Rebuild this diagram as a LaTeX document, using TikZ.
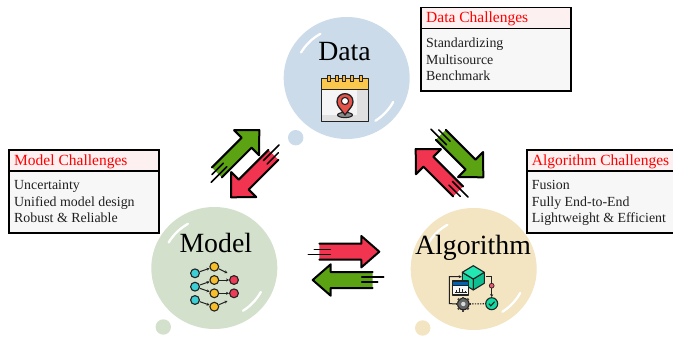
\documentclass[tikz,border=0pt]{standalone}
\usepackage{fontspec}
\usetikzlibrary{shapes.geometric,arrows.meta}
\setmainfont{Liberation Serif}
\definecolor{bubData}{HTML}{CBDBEA}
\definecolor{bubModel}{HTML}{D3E0CB}
\definecolor{bubAlgo}{HTML}{F3E4C2}
\definecolor{arrGreen}{HTML}{5BA313}
\definecolor{arrRed}{HTML}{F1344F}
\definecolor{hdrFill}{HTML}{FDF0F1}
\definecolor{bodyFill}{HTML}{F7F7F7}
\definecolor{calYellow}{HTML}{FBC84E}
\definecolor{pinRed}{HTML}{E5534B}
\definecolor{nnCyan}{HTML}{3CCFD6}
\definecolor{nnYellow}{HTML}{F7BE2B}
\definecolor{nnRed}{HTML}{EE3B57}
\definecolor{icoLine}{HTML}{222222}
\tikzset{
  bubble/.style={ellipse,draw=none,inner sep=0pt,minimum width=126pt,minimum height=122pt},
  dot/.style={circle,draw=none,inner sep=0pt,minimum size=15.4pt},
  gloss/.style={white,line width=2.3pt,line cap=round},
  bigtitle/.style={anchor=base,inner sep=0pt,font=\fontsize{27.8}{30}\selectfont,text=black},
  hdrbox/.style={draw=black,line width=1.6pt,fill=hdrFill,anchor=north west,inner sep=0pt,minimum width=#1},
  bodybox/.style={draw=black,line width=1.6pt,fill=bodyFill,anchor=north west,inner sep=0pt,minimum width=#1},
  hdrtext/.style={anchor=base west,inner sep=0pt,text=red,font=\fontsize{15.5}{17}\selectfont},
  bodytext/.style={anchor=base west,inner sep=0pt,text=black!88,font=\fontsize{13.9}{16}\selectfont},
  arrowline/.style={black,line width=2pt,line join=round,line cap=round},
  streak/.style={black,line width=1.5pt,line cap=round},
  nn/.style={circle,draw=icoLine,line width=1.1pt,inner sep=0pt,minimum size=8.8pt},
  nnarrow/.style={draw=icoLine,line width=1pt,-{Stealth[length=3pt,width=3pt]}},
  ico/.style={draw=icoLine,line width=1.1pt,line join=round},
}
% at, angle, colour, barb half width, shaft half width
\newcommand\bigarrow[5]{%
  \begin{scope}[shift={(#1)},rotate=#2]
    \fill[#3] (-60,-#5) -- (-18,-#5) -- (-18,-#4) -- (0,0) -- (-18,#4) -- (-18,#5) -- (-60,#5) -- cycle;
    \draw[arrowline] (-60,-#5) -- (-18,-#5) -- (-18,-#4) -- (0,0) -- (-18,#4) -- (-18,#5) -- (-60,#5);
    \draw[streak] (-49,3) -- (-71,3);
    \draw[streak] (-49,-2) -- (-65,-2);
  \end{scope}}
\newcommand\glossarcs[2]{%
  \draw[gloss] plot[smooth,domain=120:150,samples=9] ({#1+52.7*cos(\x)},{#2-51*sin(\x)});
  \draw[gloss] plot[smooth,domain=-57:-28,samples=9] ({#1+52.7*cos(\x)},{#2-51*sin(\x)});}
\begin{document}
\begin{tikzpicture}[x=1pt,y=-1pt]
\useasboundingbox (0,0) rectangle (673,337);
\clip (0,0) rectangle (673,337);

% bubbles
\node[bubble,fill=bubData] (dataBub) at (346.7,78) {};
\node[dot,fill=bubData] (dataDot) at (295.7,137.7) {};
\glossarcs{346.7}{78}
\node[bubble,fill=bubModel] (modelBub) at (214.3,268) {};
\node[dot,fill=bubModel] (modelDot) at (163.3,327) {};
\glossarcs{214.3}{268}
\node[bubble,fill=bubAlgo] (algoBub) at (473.7,269) {};
\node[dot,fill=bubAlgo] (algoDot) at (422.7,328) {};
\glossarcs{473.7}{269}

\node[bigtitle] (dataT) at (344.5,61) {Data};
\node[bigtitle] (modelT) at (215.8,252.7) {Model};
\node[bigtitle] (algoT) at (473,254) {Algorithm};

% challenge boxes
\node[bodybox=150pt,minimum height=62.5pt] (dataBody) at (420,27.7) {};
\node[hdrbox=150pt,minimum height=21pt] (dataHead) at (420,6.7) {};
\node[hdrtext] (dataH) at (426,23) {Data Challenges};
\node[bodytext] (data1) at (426,47.7) {Standardizing};
\node[bodytext] (data2) at (426,64.3) {Multisource};
\node[bodytext] (data3) at (426,81) {Benchmark};

\node[bodybox=150pt,minimum height=62pt] (modelBody) at (8.3,170) {};
\node[hdrbox=150pt,minimum height=21pt] (modelHead) at (8.3,149) {};
\node[hdrtext] (modelH) at (14,165) {Model Challenges};
\node[bodytext] (model1) at (14,189.3) {Uncertainty};
\node[bodytext] (model2) at (14,206) {Unified model design};
\node[bodytext] (model3) at (14,222.7) {Robust \& Reliable};

\node[bodybox=155pt,minimum height=62pt] (algoBody) at (526,170) {};
\node[hdrbox=155pt,minimum height=21pt] (algoHead) at (526,149) {};
\node[hdrtext] (algoH) at (531.7,165) {Algorithm Challenges};
\node[bodytext] (algo1) at (531.7,189.3) {Fusion};
\node[bodytext] (algo2) at (531.7,206) {Fully End-to-End};
\node[bodytext] (algo3) at (531.7,222.7) {Lightweight \& Efficient};

% big arrows
\coordinate (tipA) at (259.3,130);
\coordinate (tipB) at (231,197.3);
\coordinate (tipC) at (483.3,177.3);
\coordinate (tipD) at (415.7,149);
\coordinate (tipE) at (379.3,251.7);
\coordinate (tipF) at (312.7,280);
\bigarrow{tipA}{45}{arrGreen}{17.7}{7}
\bigarrow{tipB}{225}{arrRed}{17.7}{7}
\bigarrow{tipC}{-45}{arrGreen}{17.7}{7}
\bigarrow{tipD}{135}{arrRed}{17.7}{7}
\bigarrow{tipE}{0}{arrRed}{15.7}{8}
\bigarrow{tipF}{180}{arrGreen}{15.7}{8}

% calendar icon
\fill[white!96!black] (321.3,78.3) rectangle (368.7,121.7);
\fill[black!12] (357.3,89.3) rectangle (368.7,121.7);
\fill[black!12] (321.3,115) rectangle (368.7,121.7);
\fill[calYellow] (321.3,78.3) rectangle (368.7,89.3);
\draw[ico,line width=1.3pt] (321.3,78.3) rectangle (368.7,121.7);
\draw[ico,line width=1.3pt] (321.3,89.3) -- (368.7,89.3);
\foreach \rx in {329,336.7,344.3,352.3,360.7}
  \draw[ico,fill=calYellow!80!orange] (\rx-1.5,75.3) rectangle (\rx+1.5,81.7);
\draw[ico,fill=black!45] (345,115) ellipse [x radius=7.5,y radius=2.6];
\draw[ico,line width=1.3pt,fill=pinRed] (345,115) .. controls (340,108) and (337,106) .. (337,101.7)
  .. controls (337,91) and (353,91) .. (353,101.7)
  .. controls (353,106) and (350,108) .. (345,115) -- cycle;
\draw[ico,fill=white] (345,101) circle [radius=3.6];

% neural network icon
\node[nn,fill=nnCyan] (c1) at (195,273.3) {};
\node[nn,fill=nnCyan] (c2) at (195,286.7) {};
\node[nn,fill=nnCyan] (c3) at (195,300) {};
\node[nn,fill=nnYellow] (y1) at (214.3,266.7) {};
\node[nn,fill=nnYellow] (y2) at (214.3,280) {};
\node[nn,fill=nnYellow] (y3) at (214.3,293.3) {};
\node[nn,fill=nnYellow] (y4) at (214.3,306.7) {};
\node[nn,fill=nnRed] (r1) at (234,280) {};
\node[nn,fill=nnRed] (r2) at (234,293.3) {};
\coordinate (o1) at (227.5,273);
\coordinate (o2) at (227.5,301);
\draw[nnarrow] (c1) -- (y1);
\draw[nnarrow] (c2) -- (y2);
\draw[nnarrow] (c2) -- (y3);
\draw[nnarrow] (c3) -- (y4);
\draw[nnarrow] (y1) -- (o1);
\draw[nnarrow] (y4) -- (o2);
\draw[nnarrow] (y2) -- (r1);
\draw[nnarrow] (y3) -- (r2);

% algorithm icon
\definecolor{cubeT}{HTML}{22E8B4}
\definecolor{cubeL}{HTML}{12D9A2}
\definecolor{cubeR}{HTML}{0CBE90}
\draw[ico,fill=cubeL] (462.3,272.3) -- (473.3,279) -- (473.3,290) -- (462.3,283.3) -- cycle;
\draw[ico,fill=cubeR] (484.3,272.3) -- (473.3,279) -- (473.3,290) -- (484.3,283.3) -- cycle;
\draw[ico,fill=cubeT] (473.3,265.7) -- (484.3,272.3) -- (473.3,279) -- (462.3,272.3) -- cycle;
\node[circle,draw=icoLine,line width=1.1pt,fill=black!60,inner sep=0pt,minimum size=11.5pt] (gear) at (463.3,304) {};
\foreach \ga in {0,45,...,315}
  \draw[black!75,line width=2pt] (gear.center) ++(\ga:5.5) -- ++(\ga:2);
\fill[black!15] (gear.center) circle [radius=2.2];
\node[circle,draw=icoLine,line width=1.1pt,fill=cubeL,inner sep=0pt,minimum size=12pt] (check) at (491.7,303.7) {};
\draw[icoLine,line width=1.1pt] (488.8,303.7) -- (490.8,305.8) -- (494.6,301.8);
\draw[ico,dash pattern=on 1.4pt off 1.2pt] (gear) -- (check);
\node[circle,draw=icoLine,line width=.7pt,fill=nnRed!85,inner sep=0pt,minimum size=4.8pt] (flag) at (491.7,285.7) {};
\coordinate (cubeIn) at (461.7,276.7);
\coordinate (cubeOut) at (485.7,276.7);
\draw[nnarrow] (gear.west) -- (449.3,303.6) -- (449.3,276.7) -- (cubeIn);
\draw[icoLine,line width=1pt] (cubeOut) -- (491.7,276.7) -- (flag);
\draw[nnarrow] (flag) -- (check);
\fill[bodyFill] (452.7,281) rectangle (468.3,295);
\fill[blue!45!cyan!70!black] (452.7,281) rectangle (468.3,285);
\draw[ico] (452.7,281) rectangle (468.3,295);
\draw[ico,line width=.8pt] (452.7,285) -- (468.3,285);
\foreach \bx/\bh in {456/3,459/5,462/4,465/2}
  \draw[icoLine,line width=1pt] (\bx,292.5) -- ++(0,-\bh);
\draw[icoLine,line width=.7pt] (454.5,292.7) -- (466.5,292.7);
\end{tikzpicture}
\end{document}
